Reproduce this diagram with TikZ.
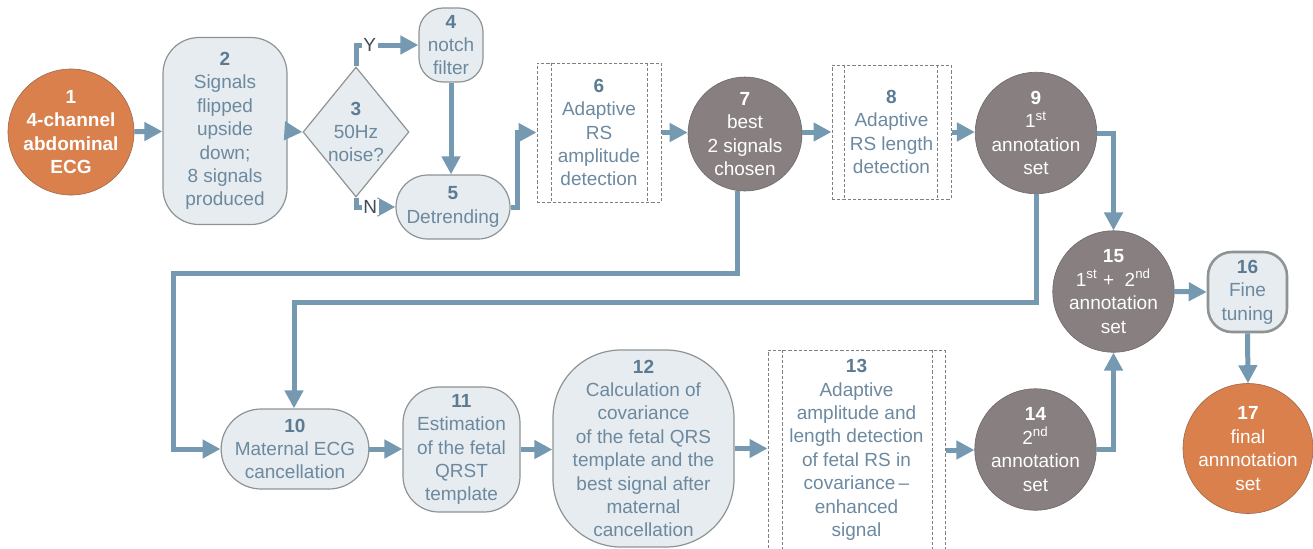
\documentclass[tikz,border=0pt]{standalone}
\usepackage{fontspec}
\setmainfont{Liberation Sans}
\usetikzlibrary{shapes.geometric,shapes.misc,arrows.meta}
\definecolor{boxfill}{HTML}{E6ECEF}
\definecolor{boxline}{HTML}{8E9394}
\definecolor{txtblue}{HTML}{6C89A0}
\definecolor{numblue}{HTML}{5C7B92}
\definecolor{arrowc}{HTML}{7699B2}
\definecolor{graycirc}{HTML}{877F80}
\definecolor{graycircline}{HTML}{6E6768}
\definecolor{orangec}{HTML}{D9804D}
\definecolor{orangeline}{HTML}{9C6A4C}
\definecolor{dashc}{HTML}{7F7F7F}
\definecolor{ynlabel}{HTML}{3E4D59}
\newcommand\stepnum[1]{\textbf{\color{numblue}#1}}
\begin{document}
\begin{tikzpicture}[x=0.5pt,y=-0.5pt,
 base/.style={font=\fontsize{9.5}{11.7}\selectfont, align=center, inner sep=0pt, text=txtblue},
 rbox/.style={base, draw=boxline, fill=boxfill, line width=0.6pt, rounded corners=#1},
 stad/.style={base, rounded rectangle, draw=boxline, fill=boxfill, line width=0.6pt},
 dbox/.style={base, draw=dashc, dash pattern=on 1.6pt off 1pt, line width=0.5pt},
 dline/.style={draw=dashc, dash pattern=on 1.6pt off 1pt, line width=0.5pt},
 gcirc/.style={base, circle, fill=graycirc, draw=graycircline, line width=0.3pt, text=white},
 ocirc/.style={base, circle, fill=orangec, draw=orangeline, line width=0.3pt, text=white},
 conn/.style={draw=arrowc, line width=2.5pt, -{Triangle[length=9pt,width=9pt]}},
 yn/.style={font=\fontsize{9.5}{11}\selectfont, text=ynlabel, fill=white, inner sep=0.8pt},
]
\useasboundingbox (0,0) rectangle (1313,548);

% nodes
\node[ocirc, minimum size=62.5pt, font=\bfseries\fontsize{9.5}{11.7}\selectfont] (n1) at (71,132) {1\\4-channel\\abdominal\\ECG};
\node[rbox=18pt, minimum width=62pt, minimum height=93.5pt] (n2) at (225,131) {\stepnum{2}\\Signals\\flipped\\upside\\down;\\8 signals\\produced};
\node[diamond, draw=boxline, fill=boxfill, line width=0.6pt, minimum width=53pt, minimum height=65pt, inner sep=0pt] (n3) at (356,132) {};
\node[base] (t3) at (n3) {\stepnum{3}\\50Hz\\noise?};
\node[rbox=12pt, minimum width=32pt, minimum height=37pt] (n4) at (451,45) {\stepnum{4}\\notch\\filter};
\node[stad, minimum width=57pt, minimum height=32pt] (n5) at (453,207) {\stepnum{5}\\Detrending};
\node[dbox, minimum width=62pt, minimum height=69.5pt] (n6) at (599,132.5) {\stepnum{6}\\Adaptive\\RS\\amplitude\\detection};
\node[gcirc, minimum size=57pt] (n7) at (745,134) {\textbf{7}\\best\\2 signals\\chosen};
\node[dbox, minimum width=59.5pt, minimum height=67pt] (n8) at (891.5,132) {\stepnum{8}\\Adaptive\\RS length\\detection};
\node[gcirc, minimum size=57pt] (n9) at (1036,133) {\textbf{9}\\1\textsuperscript{st}\\annotation\\set};
\node[stad, minimum width=73pt, minimum height=40pt] (n10) at (295,449) {\stepnum{10}\\Maternal ECG\\cancellation};
\node[rbox=18pt, minimum width=58.5pt, minimum height=62.5pt] (n11) at (461.5,449.5) {\stepnum{11}\\Estimation\\of the fetal\\QRST\\template};
\node[rbox=34pt, minimum width=90.5pt, minimum height=98.5pt] (n12) at (643.5,448.5) {\stepnum{12}\\Calculation of\\covariance\\of the fetal QRS\\template and the\\best signal after\\maternal\\cancellation};
\node[dbox, minimum width=88.5pt, minimum height=100pt] (n13) at (856.5,450) {\stepnum{13}\\Adaptive\\amplitude and\\length detection\\of fetal RS in\\covariance\,–\\enhanced\\signal};
\node[gcirc, minimum size=57.5pt] (n14) at (1035.5,449.5) {\textbf{14}\\2\textsuperscript{nd}\\annotation\\set};
\node[gcirc, minimum size=59.5pt] (n15) at (1113.5,291.5) {\textbf{15}\\1\textsuperscript{st} + \ 2\textsuperscript{nd}\\annotation\\set};
\node[rbox=12pt, minimum width=39.5pt, minimum height=40pt, line width=1.3pt] (n16) at (1247.5,292) {\stepnum{16}\\Fine\\tuning};
\node[ocirc, minimum size=65pt] (n17) at (1248,448.5) {\textbf{17}\\final\\annnotation\\set};

% inner lines of dashed boxes
\draw[dline] ([xshift=7.5pt]n6.north west) -- ([xshift=7.5pt]n6.south west);
\draw[dline] ([xshift=-7pt]n6.north east) -- ([xshift=-7pt]n6.south east);
\draw[dline] ([xshift=6.5pt]n8.north west) -- ([xshift=6.5pt]n8.south west);
\draw[dline] ([xshift=-7pt]n8.north east) -- ([xshift=-7pt]n8.south east);
\draw[dline] ([xshift=7.5pt]n13.north west) -- ([xshift=7.5pt]n13.south west);
\draw[dline] ([xshift=-6.5pt]n13.north east) -- ([xshift=-6.5pt]n13.south east);

% connectors
\coordinate (k1) at (173,273);
\coordinate (k2) at (294,302);
\draw[conn] (n1) -- (n2);
\draw[conn] (n2.east) -- (n3.west);
\draw[conn] (n3.north) |- node[yn, pos=0.5, anchor=west, xshift=1.6pt]{Y} (n4.west);
\draw[conn] (n3.south) |- node[yn, pos=0.5, anchor=west, xshift=1.6pt]{N} (n5.west);
\draw[conn] (n4.south) -- (n4.south |- n5.north);
\draw[conn] (n5.east) -- ++(7,0) |- (n6.west);
\draw[conn] (n6.east) -- (n7.west |- n6.east);
\draw[conn] (n7.east |- n8.west) -- (n8.west);
\draw[conn] (n8.east) -- (n9.west |- n8.east);
\draw[conn] (n9.east) -| (n15.north);
\draw[conn] (n15.east) -- (n16.west);
\draw[conn] (n16.south) -- (n17.north);
\draw[conn] (n7.262) |- (k1) |- (n10.west);
\draw[conn] (n9.south) |- (k2) -- (k2 |- n10.north);
\draw[conn] (n10.east) -- (n11.west |- n10.east);
\draw[conn] (n11.east) -- (n12.west |- n11.east);
\draw[conn] (n12.east) -- (n13.west |- n12.east);
\draw[conn] (n13.east) -- (n14.west |- n13.east);
\draw[conn] (n14.east) -| (n15.south);
\end{tikzpicture}
\end{document}
